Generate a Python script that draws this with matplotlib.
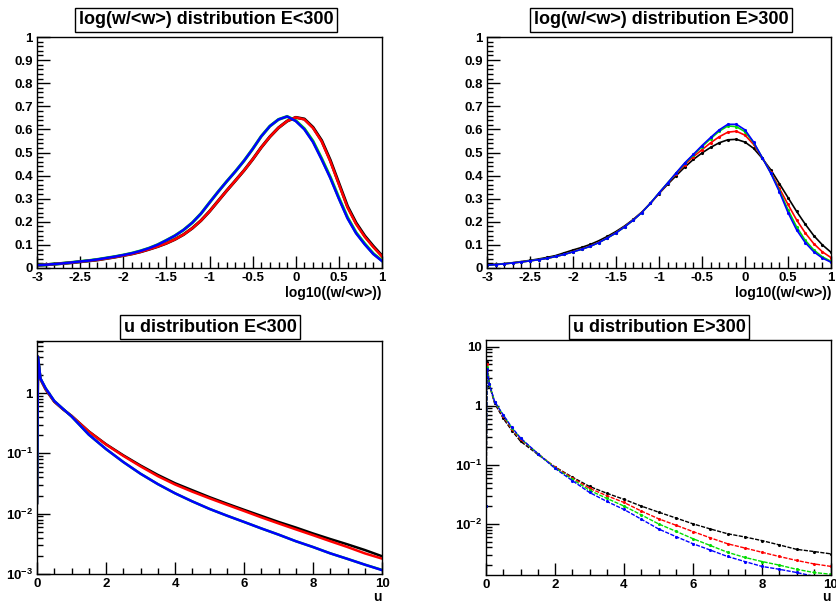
import matplotlib
matplotlib.use("Agg")
import matplotlib.pyplot as plt
from matplotlib.ticker import MultipleLocator, LogLocator, FixedLocator, NullFormatter
import numpy as np

plt.rcParams['font.family'] = ['Liberation Sans', 'DejaVu Sans']
plt.rcParams['font.weight'] = 'bold'
plt.rcParams['mathtext.fontset'] = 'custom'
plt.rcParams['mathtext.rm'] = 'Liberation Sans:bold'
plt.rcParams['mathtext.bf'] = 'Liberation Sans:bold'

# ---------------- data ----------------
logw_x = [-3.0, -2.9, -2.8, -2.7, -2.6, -2.5, -2.4, -2.3, -2.2, -2.1, -2.0,
          -1.9, -1.8, -1.7, -1.6, -1.5, -1.4, -1.3, -1.2, -1.1, -1.0,
          -0.9, -0.8, -0.7, -0.6, -0.5, -0.4, -0.3, -0.2, -0.1, 0.0,
          0.1, 0.2, 0.3, 0.4, 0.5, 0.6, 0.7, 0.8, 0.9, 1.0]

# E<300
lo_red = [0.012, 0.014, 0.017, 0.020, 0.023, 0.027, 0.031, 0.035, 0.041, 0.047, 0.054,
          0.061, 0.070, 0.081, 0.093, 0.107, 0.124, 0.145, 0.172, 0.205, 0.245,
          0.290, 0.335, 0.378, 0.422, 0.470, 0.522, 0.568, 0.607, 0.636, 0.652,
          0.643, 0.606, 0.548, 0.462, 0.362, 0.262, 0.190, 0.135, 0.090, 0.050]
lo_black = [0.012, 0.014, 0.017, 0.020, 0.023, 0.027, 0.031, 0.035, 0.041, 0.047, 0.054,
            0.061, 0.070, 0.081, 0.093, 0.107, 0.124, 0.145, 0.172, 0.205, 0.245,
            0.290, 0.335, 0.378, 0.422, 0.470, 0.522, 0.568, 0.607, 0.636, 0.652,
            0.645, 0.609, 0.552, 0.467, 0.367, 0.267, 0.195, 0.139, 0.094, 0.053]
lo_blue = [0.012, 0.014, 0.017, 0.020, 0.024, 0.028, 0.032, 0.037, 0.043, 0.049, 0.056,
           0.064, 0.074, 0.086, 0.101, 0.120, 0.140, 0.165, 0.196, 0.235, 0.283,
           0.330, 0.375, 0.418, 0.464, 0.515, 0.570, 0.614, 0.643, 0.656, 0.636,
           0.600, 0.545, 0.470, 0.390, 0.300, 0.215, 0.150, 0.102, 0.060, 0.030]
lo_green = [0.012, 0.014, 0.017, 0.020, 0.024, 0.028, 0.032, 0.037, 0.043, 0.049, 0.056,
            0.064, 0.074, 0.086, 0.101, 0.120, 0.140, 0.165, 0.196, 0.235, 0.283,
            0.330, 0.375, 0.418, 0.464, 0.515, 0.570, 0.614, 0.643, 0.656, 0.638,
            0.603, 0.549, 0.474, 0.394, 0.304, 0.219, 0.153, 0.105, 0.062, 0.032]

# E>300
hi_black = [0.013, 0.016, 0.019, 0.023, 0.028, 0.033, 0.039, 0.046, 0.054, 0.066, 0.078,
            0.089, 0.102, 0.118, 0.137, 0.158, 0.182, 0.210, 0.242, 0.280, 0.322,
            0.362, 0.400, 0.437, 0.470, 0.498, 0.522, 0.542, 0.555, 0.557, 0.545,
            0.518, 0.475, 0.425, 0.365, 0.305, 0.245, 0.190, 0.140, 0.100, 0.068]
hi_red = [0.012, 0.015, 0.018, 0.022, 0.026, 0.031, 0.036, 0.042, 0.050, 0.059, 0.071,
          0.082, 0.095, 0.111, 0.131, 0.153, 0.179, 0.208, 0.241, 0.280, 0.323,
          0.366, 0.408, 0.448, 0.482, 0.512, 0.542, 0.568, 0.588, 0.592, 0.575,
          0.535, 0.478, 0.415, 0.345, 0.275, 0.208, 0.152, 0.105, 0.070, 0.045]
hi_green = [0.012, 0.015, 0.018, 0.022, 0.026, 0.031, 0.036, 0.042, 0.050, 0.059, 0.070,
            0.081, 0.094, 0.110, 0.130, 0.152, 0.178, 0.207, 0.240, 0.280, 0.325,
            0.368, 0.411, 0.453, 0.490, 0.525, 0.560, 0.592, 0.615, 0.612, 0.590,
            0.543, 0.478, 0.412, 0.335, 0.252, 0.178, 0.120, 0.078, 0.048, 0.029]
hi_blue = [0.012, 0.015, 0.018, 0.022, 0.026, 0.031, 0.036, 0.042, 0.050, 0.059, 0.070,
           0.081, 0.094, 0.110, 0.130, 0.152, 0.178, 0.207, 0.240, 0.280, 0.325,
           0.368, 0.412, 0.455, 0.492, 0.530, 0.565, 0.598, 0.622, 0.622, 0.598,
           0.545, 0.478, 0.410, 0.330, 0.240, 0.165, 0.110, 0.070, 0.043, 0.025]

u_x = [0.0, 0.03, 0.1, 0.25, 0.5, 0.75, 1.0, 1.5, 2.0, 2.5, 3.0, 3.5, 4.0, 4.5,
       5.0, 5.5, 6.0, 6.5, 7.0, 7.5, 8.0, 8.5, 9.0, 9.5, 10.0]

# u, E<300
ulo_black = [0.015, 4.0, 1.7, 1.15, 0.72, 0.54, 0.42, 0.232, 0.142, 0.093, 0.063, 0.044, 0.032, 0.0245,
             0.0188, 0.0147, 0.0116, 0.0092, 0.0073, 0.0059, 0.0047, 0.0038, 0.0031, 0.0025, 0.00197]
ulo_red = [0.015, 4.0, 1.7, 1.15, 0.72, 0.54, 0.42, 0.230, 0.140, 0.091, 0.061, 0.042, 0.0305, 0.0232,
           0.0180, 0.0141, 0.0111, 0.0087, 0.0069, 0.0055, 0.0044, 0.0035, 0.0028, 0.0022, 0.0018]
ulo_green = [0.015, 4.0, 1.75, 1.2, 0.74, 0.55, 0.41, 0.205, 0.118, 0.072, 0.046, 0.031, 0.0218, 0.0160,
             0.0120, 0.0093, 0.0073, 0.0057, 0.0045, 0.0035, 0.0028, 0.0022, 0.00178, 0.00143, 0.00117]
ulo_blue = [0.015, 4.0, 1.75, 1.2, 0.74, 0.55, 0.41, 0.205, 0.118, 0.072, 0.046, 0.031, 0.0218, 0.0160,
            0.0120, 0.0093, 0.0073, 0.0057, 0.0045, 0.0035, 0.0028, 0.0022, 0.00178, 0.00143, 0.00116]

# u, E>300
uhi_black = [0.02, 5.5, 2.2, 1.1, 0.61, 0.38, 0.25, 0.15, 0.092, 0.062, 0.043, 0.033, 0.026, 0.020,
             0.0158, 0.0126, 0.0100, 0.0082, 0.0068, 0.0060, 0.0052, 0.0044, 0.0037, 0.0034, 0.0031]
uhi_red = [0.02, 5.0, 2.3, 1.15, 0.66, 0.40, 0.27, 0.155, 0.091, 0.060, 0.040, 0.030, 0.023, 0.0165,
           0.0122, 0.0095, 0.0074, 0.0058, 0.0046, 0.0039, 0.0033, 0.0028, 0.0024, 0.0021, 0.0019]
uhi_green = [0.02, 4.5, 2.3, 1.17, 0.69, 0.42, 0.28, 0.155, 0.089, 0.057, 0.037, 0.027, 0.020, 0.0142,
             0.0100, 0.0075, 0.0056, 0.0043, 0.0033, 0.0027, 0.0023, 0.0020, 0.0017, 0.0015, 0.0014]
uhi_blue = [0.02, 4.2, 2.3, 1.18, 0.70, 0.43, 0.285, 0.155, 0.087, 0.054, 0.034, 0.024, 0.0175, 0.0120,
            0.0082, 0.0061, 0.0046, 0.0036, 0.0028, 0.0023, 0.0019, 0.0017, 0.0015, 0.0013, 0.0012]

titles = ["log(w/<w>) distribution E<300", "log(w/<w>) distribution E>300",
          "u distribution E<300", "u distribution E>300"]
xlabel_top = "log10((w/<w>))"
xlabel_bot = "u"

BLACK, RED, GREEN, BLUE = "#000000", "#ff0000", "#00dd00", "#0000ff"

# ---------------- figure ----------------
W, H = 836, 604
fig = plt.figure(figsize=(W / 100, H / 100), dpi=100)

def rect(l, r, t, b):
    return [l / W, 1 - b / H, (r - l) / W, (b - t) / H]

ax_tl = fig.add_axes(rect(37, 382, 37, 268))
ax_tr = fig.add_axes(rect(487, 831, 37, 268))
ax_bl = fig.add_axes(rect(37, 382, 341, 574))
ax_br = fig.add_axes(rect(486, 831, 340, 575))

TICKFS = 9.5

def style(ax):
    for s in ax.spines.values():
        s.set_linewidth(1.0)
        s.set_color("black")
    ax.tick_params(which='both', direction='in', top=False, right=False,
                   labelsize=TICKFS, width=1.0)
    ax.tick_params(axis='x', pad=3)
    ax.tick_params(axis='y', pad=3)
    ax.tick_params(which='major', length=9)
    ax.tick_params(which='minor', length=4.5)
    for lab in ax.get_xticklabels() + ax.get_yticklabels():
        lab.set_fontweight('bold')

# top panels
for ax, series, marker in [
        (ax_tl, [(lo_black, BLACK), (lo_green, GREEN), (lo_red, RED), (lo_blue, BLUE)], False),
        (ax_tr, [(hi_black, BLACK), (hi_red, RED), (hi_green, GREEN), (hi_blue, BLUE)], True)]:
    for vals, c in series:
        if marker:
            ax.plot(logw_x, vals, color=c, lw=1.2, marker='.', ms=2.5)
        else:
            if c in (BLACK, GREEN):
                ax.plot(logw_x, vals, color=c, lw=2.2)
            else:
                ax.plot(logw_x, vals, color=c, lw=1.8)
    ax.set_xlim(-3, 1)
    ax.set_ylim(0, 1)
    ax.xaxis.set_minor_locator(MultipleLocator(0.1))
    ax.yaxis.set_minor_locator(MultipleLocator(0.02))
    xt = np.arange(-3, 1.01, 0.5)
    ax.set_xticks(xt)
    ax.set_xticklabels([f"{v:g}" for v in xt])
    yt = np.round(np.arange(0, 1.01, 0.1), 1)
    ax.set_yticks(yt)
    ax.set_yticklabels([f"{v:g}" for v in yt])
    style(ax)

# bottom panels
def logfmt(v):
    if v == 1:
        return "1"
    if v == 10:
        return "10"
    e = int(round(np.log10(v)))
    return r"$\mathbf{10^{%d}}$" % e

for ax, series, marker, ylim in [
        (ax_bl, [(ulo_black, BLACK), (ulo_red, RED), (ulo_green, GREEN), (ulo_blue, BLUE)], False, (1e-3, 7.3)),
        (ax_br, [(uhi_black, BLACK), (uhi_red, RED), (uhi_green, GREEN), (uhi_blue, BLUE)], True, (1.36e-3, 13))]:
    for vals, c in series:
        if marker:
            ax.plot(u_x, vals, color=c, lw=1.0, marker='.', ms=2.5, ls=(0, (3, 1)))
        else:
            ax.plot(u_x, vals, color=c, lw=1.8)
    ax.set_yscale('log')
    ax.set_xlim(0, 10)
    ax.set_ylim(*ylim)
    ax.xaxis.set_minor_locator(MultipleLocator(0.5))
    majors = [v for v in [1e-3, 1e-2, 1e-1, 1, 10] if ylim[0] <= v <= ylim[1]]
    ax.yaxis.set_major_locator(FixedLocator(majors))
    ax.yaxis.set_minor_locator(LogLocator(base=10, subs=np.arange(2, 10)))
    ax.yaxis.set_minor_formatter(NullFormatter())
    ax.set_yticklabels([logfmt(v) for v in majors])
    xt = np.arange(0, 10.01, 2)
    ax.set_xticks(xt)
    ax.set_xticklabels([f"{int(v)}" for v in xt])
    style(ax)

# axis labels (right aligned, ROOT style)
for xr, yc, lab in [(382, 293, xlabel_top), (831, 293, xlabel_top),
                    (382, 597, xlabel_bot), (831, 597, xlabel_bot)]:
    fig.text(xr / W, 1 - yc / H, lab, ha='right', va='center', fontsize=10, fontweight='bold')

# title boxes
for (cx, cy), t in zip([(206, 20), (661, 20), (210, 327), (659, 327)], titles):
    fig.text(cx / W, 1 - cy / H, t, ha='center', va='center', fontsize=13, fontweight='bold',
             bbox=dict(boxstyle='square,pad=0.2', fc='white', ec='black', lw=1.0))

fig.savefig("out.png", dpi=100)
